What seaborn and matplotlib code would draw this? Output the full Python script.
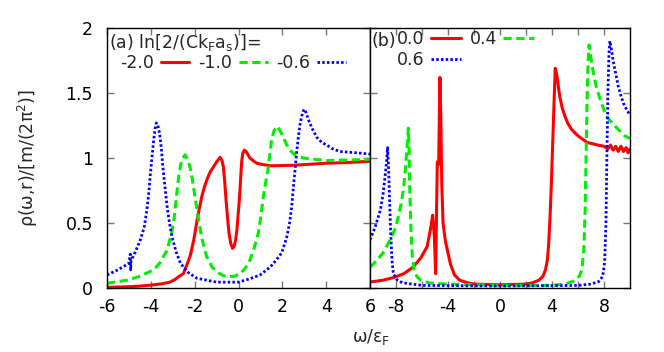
import matplotlib
matplotlib.use('Agg')
import matplotlib.pyplot as plt
import seaborn as sns
from matplotlib.lines import Line2D

sns.set_theme(style='ticks')
plt.rcParams['font.family'] = ['DejaVu Sans']
plt.rcParams['mathtext.fontset'] = 'dejavusans'
FS = 12.5

# ---------------- panel (a): ln[2/(Ck_F a_s)] = -2.0, -1.0, -0.6 ----------------
a_labels = ['-2.0', '-1.0', '-0.6']
a_x_m20 = [-6.0, -5.0, -4.48, -4.0, -3.5, -3.13, -2.9, -2.73, -2.52, -2.35, -2.2, -2.04,
           -1.91, -1.8, -1.68, -1.55, -1.45, -1.3, -1.15, -1.0, -0.84, -0.75, -0.69, -0.63,
           -0.57, -0.5, -0.43, -0.35, -0.27, -0.2, -0.13, -0.07, -0.02, 0.03, 0.07, 0.11,
           0.15, 0.2, 0.27, 0.35, 0.52, 0.7, 0.83, 1.1, 1.44, 2.5, 4.02, 5.0, 6.0]
a_y_m20 = [0.005, 0.01, 0.015, 0.022, 0.032, 0.045, 0.065, 0.087, 0.11, 0.18, 0.25, 0.37,
           0.50, 0.60, 0.70, 0.78, 0.83, 0.89, 0.93, 0.97, 1.005, 0.98, 0.93, 0.82,
           0.68, 0.54, 0.42, 0.34, 0.305, 0.32, 0.37, 0.45, 0.56, 0.66, 0.76, 0.88,
           0.98, 1.04, 1.06, 1.05, 1.0, 0.975, 0.96, 0.95, 0.94, 0.944, 0.96, 0.965, 0.975]
a_x_m10 = [-6.0, -5.09, -4.5, -3.87, -3.6, -3.43, -3.26, -3.15, -3.05, -2.95, -2.88, -2.8,
           -2.72, -2.6, -2.44, -2.3, -2.2, -2.12, -2.0, -1.92, -1.8, -1.68, -1.55, -1.45,
           -1.2, -1.0, -0.7, -0.47, -0.2, 0.07, 0.3, 0.52, 0.7, 0.9, 1.02, 1.13, 1.25,
           1.36, 1.51, 1.62, 1.77, 1.9, 2.04, 2.2, 2.35, 2.6, 2.96, 4.02, 6.0]
a_y_m10 = [0.036, 0.06, 0.09, 0.14, 0.19, 0.24, 0.29, 0.36, 0.42, 0.52, 0.62, 0.75,
           0.87, 0.98, 1.025, 0.98, 0.92, 0.85, 0.72, 0.63, 0.50, 0.39, 0.30, 0.24,
           0.16, 0.125, 0.095, 0.087, 0.09, 0.11, 0.15, 0.215, 0.30, 0.42, 0.55, 0.70, 0.82,
           0.93, 1.14, 1.21, 1.245, 1.21, 1.16, 1.10, 1.06, 1.02, 1.0, 0.98, 0.99]
a_x_m06 = [-6.0, -5.5, -5.0, -4.94, -4.92, -4.9, -4.7, -4.48, -4.3, -4.18, -4.1, -4.02,
           -3.95, -3.87, -3.8, -3.75, -3.68, -3.6, -3.52, -3.45, -3.35, -3.26, -3.15, -3.03,
           -2.85, -2.65, -2.3, -1.9, -1.0, 0.0, 0.5, 0.98, 1.44, 1.7, 1.97, 2.2, 2.33,
           2.43, 2.5, 2.58, 2.65, 2.73, 2.8, 2.88, 2.95, 3.0, 3.08, 3.18, 3.35, 3.57,
           3.8, 4.02, 4.3, 4.63, 5.0, 5.39, 6.0]
a_y_m06 = [0.10, 0.14, 0.19, 0.26, 0.14, 0.21, 0.28, 0.37, 0.47, 0.60, 0.72, 0.88,
           1.0, 1.14, 1.23, 1.27, 1.25, 1.19, 1.07, 0.93, 0.77, 0.63, 0.50, 0.39,
           0.28, 0.19, 0.12, 0.075, 0.045, 0.045, 0.07, 0.10, 0.16, 0.21, 0.27, 0.39, 0.50,
           0.63, 0.77, 0.91, 1.04, 1.16, 1.25, 1.32, 1.36, 1.375, 1.35, 1.30, 1.23, 1.16,
           1.12, 1.10, 1.07, 1.05, 1.045, 1.04, 1.03]

# ---------------- panel (b): 0.0, 0.4, 0.6 ----------------
b_labels = ['0.0', '0.4', '0.6']
b_x_00 = [-10.0, -9.0, -8.2, -7.4, -6.7, -6.1, -5.6, -5.45, -5.3, -5.18, -5.05, -4.95,
          -4.88, -4.82, -4.72, -4.62, -4.55, -4.48, -4.38, -4.2, -4.0, -3.8, -3.5, -3.1,
          -2.5, -2.0, 0.0, 2.0, 2.5, 3.0, 3.3, 3.5, 3.65, 3.75, 3.85, 3.95, 4.05, 4.15,
          4.25, 4.32, 4.4, 4.5, 4.6, 4.8, 5.0, 5.2, 5.5, 6.0, 6.7, 7.5,
          8.0, 8.3, 8.5, 8.7, 8.9, 9.1, 9.3, 9.5, 9.7, 9.85, 10.0]
b_y_00 = [0.046, 0.06, 0.08, 0.11, 0.16, 0.23, 0.32, 0.40, 0.48, 0.56, 0.40, 0.11,
          0.60, 0.97, 0.95, 1.62, 1.30, 0.80, 0.50, 0.36, 0.27, 0.18, 0.10, 0.06,
          0.04, 0.03, 0.025, 0.03, 0.04, 0.06, 0.09, 0.14, 0.22, 0.35, 0.55, 0.80, 1.10, 1.40,
          1.69, 1.66, 1.62, 1.54, 1.47, 1.38, 1.32, 1.27, 1.22, 1.17, 1.12, 1.10,
          1.09, 1.07, 1.10, 1.06, 1.09, 1.05, 1.09, 1.05, 1.08, 1.04, 1.07]
b_x_04 = [-10.0, -9.5, -9.0, -8.5, -8.0, -7.6, -7.4, -7.25, -7.1, -7.05, -7.0, -6.95,
          -6.85, -6.75, -6.6, -6.4, -6.1, -5.5, -4.0, 0.0, 4.0, 5.0, 5.6, 5.9, 6.1,
          6.3, 6.45, 6.55, 6.62, 6.7, 6.78, 6.85, 6.95, 7.1, 7.4, 7.8, 8.2, 8.7, 9.2,
          9.6, 10.0]
b_y_04 = [0.16, 0.21, 0.27, 0.36, 0.47, 0.65, 0.78, 0.95, 1.15, 1.23, 1.10, 0.80,
          0.45, 0.25, 0.13, 0.09, 0.06, 0.04, 0.03, 0.02, 0.02, 0.03, 0.05, 0.07, 0.09,
          0.14, 0.30, 0.60, 1.0, 1.45, 1.75, 1.87, 1.80, 1.70, 1.55, 1.42, 1.32, 1.26, 1.21,
          1.17, 1.15]
b_x_06 = [-10.0, -9.6, -9.2, -9.0, -8.85, -8.72, -8.65, -8.58, -8.5, -8.42, -8.3, -8.2,
          -7.9, -7.5, -6.0, 0.0, 6.0, 7.0, 7.6, 7.9, 8.05, 8.15, 8.22, 8.3, 8.38,
          8.45, 8.55, 8.7, 8.9, 9.1, 9.3, 9.5, 9.75, 10.0]
b_y_06 = [0.37, 0.47, 0.60, 0.72, 0.85, 0.98, 1.08, 0.95, 0.70, 0.45, 0.20, 0.11,
          0.06, 0.04, 0.02, 0.015, 0.02, 0.03, 0.05, 0.09, 0.20, 0.50, 1.0, 1.50, 1.80,
          1.90, 1.85, 1.75, 1.65, 1.55, 1.48, 1.42, 1.37, 1.33]

# ---------------- styles ----------------
RED, GREEN, BLUE = '#ff0000', '#00ee00', '#0000ff'
styles = [
    dict(color=RED, lw=2.2, ls='-'),
    dict(color=GREEN, lw=2.2, ls=(0, (2.7, 1.5))),
    dict(color=BLUE, lw=2.0, ls=(0, (0.9, 0.8))),
]

fig = plt.figure(figsize=(6.64, 3.52), dpi=100)
W, H = 664, 352
ax1 = fig.add_axes([107 / W, 64 / H, 263 / W, 260 / H])
ax2 = fig.add_axes([370 / W, 64 / H, 260 / W, 260 / H])


def draw(ax, xs, ys, st):
    sns.lineplot(x=xs, y=ys, ax=ax, color=st['color'], linewidth=st['lw'],
                 sort=False, estimator=None, legend=False)
    ln = ax.lines[-1]
    ln.set_linestyle(st['ls'])
    ln.set_solid_joinstyle('round')


for xs, ys, st in zip([a_x_m20, a_x_m10, a_x_m06], [a_y_m20, a_y_m10, a_y_m06], styles):
    draw(ax1, xs, ys, st)
for xs, ys, st in zip([b_x_00, b_x_04, b_x_06], [b_y_00, b_y_04, b_y_06], styles):
    draw(ax2, xs, ys, st)

for ax in (ax1, ax2):
    ax.set_ylim(0, 2)
    ax.set_yticks([0, 0.5, 1, 1.5, 2])
    for s in ax.spines.values():
        s.set_visible(True)
        s.set_color('black')
        s.set_linewidth(1.0)
    ax.tick_params(direction='in', length=5, width=1, color='#777777',
                   top=True, right=True, labelsize=FS, labelcolor='black')
    ax.tick_params(axis='x', pad=7)
    ax.tick_params(axis='y', pad=10)
    ax.set_xlabel('')
    ax.set_ylabel('')

ax1.set_xlim(-6, 6)
ax1.set_xticks([-6, -4, -2, 0, 2, 4, 6])
ax1.set_xticklabels(['-6', '-4', '-2', '0', '2', '4', '6'])
ax1.set_yticklabels(['0', '0.5', '1', '1.5', '2'])

ax2.set_xlim(-10, 10)
ax2.set_xticks([-8, -6, -4, -2, 0, 2, 4, 6, 8])
ax2.set_xticklabels(['-8', '', '-4', '', '0', '', '4', '', '8'])
ax2.set_yticklabels([])


def handle(st):
    return Line2D([], [], color=st['color'], linewidth=st['lw'], linestyle=st['ls'])


# legend (a)
ax1.text(2 / 263, (288 - 48) / 260, r'(a) ln[2/(Ck$_\mathregular{F}$a$_\mathregular{s}$)]=',
         transform=ax1.transAxes, fontsize=FS, va='baseline', ha='left')
leg1 = ax1.legend([handle(s) for s in styles], a_labels, loc='upper left',
                  bbox_to_anchor=((120 - 107) / 263, (288 - 54) / 260), ncol=3,
                  markerfirst=False, frameon=False, fontsize=FS, borderpad=0,
                  borderaxespad=0, handlelength=1.65, handletextpad=0.4,
                  columnspacing=0.5)

# legend (b)
ax2.text(1 / 260, (288 - 46.5) / 260, '(b)', transform=ax2.transAxes, fontsize=FS,
         va='baseline', ha='left')
order = [0, 2, 1]
leg2 = ax2.legend([handle(styles[i]) for i in order], [b_labels[i] for i in order],
                  loc='upper left', bbox_to_anchor=((397 - 370) / 260, (288 - 30) / 260),
                  ncol=2, markerfirst=False, frameon=False, fontsize=FS, borderpad=0,
                  borderaxespad=0, handlelength=1.75, handletextpad=0.35,
                  columnspacing=0.5, labelspacing=0.15)

fig.text(28 / W, 1 - 158 / H, r'ρ(ω,r)/[m/(2π$^{2}$)]', rotation=90, fontsize=FS,
         ha='center', va='center')
fig.text(371 / W, 1 - 337 / H, r'ω/ε$_\mathregular{F}$', fontsize=FS, ha='center',
         va='center')

fig.savefig('out.png', dpi=100)
